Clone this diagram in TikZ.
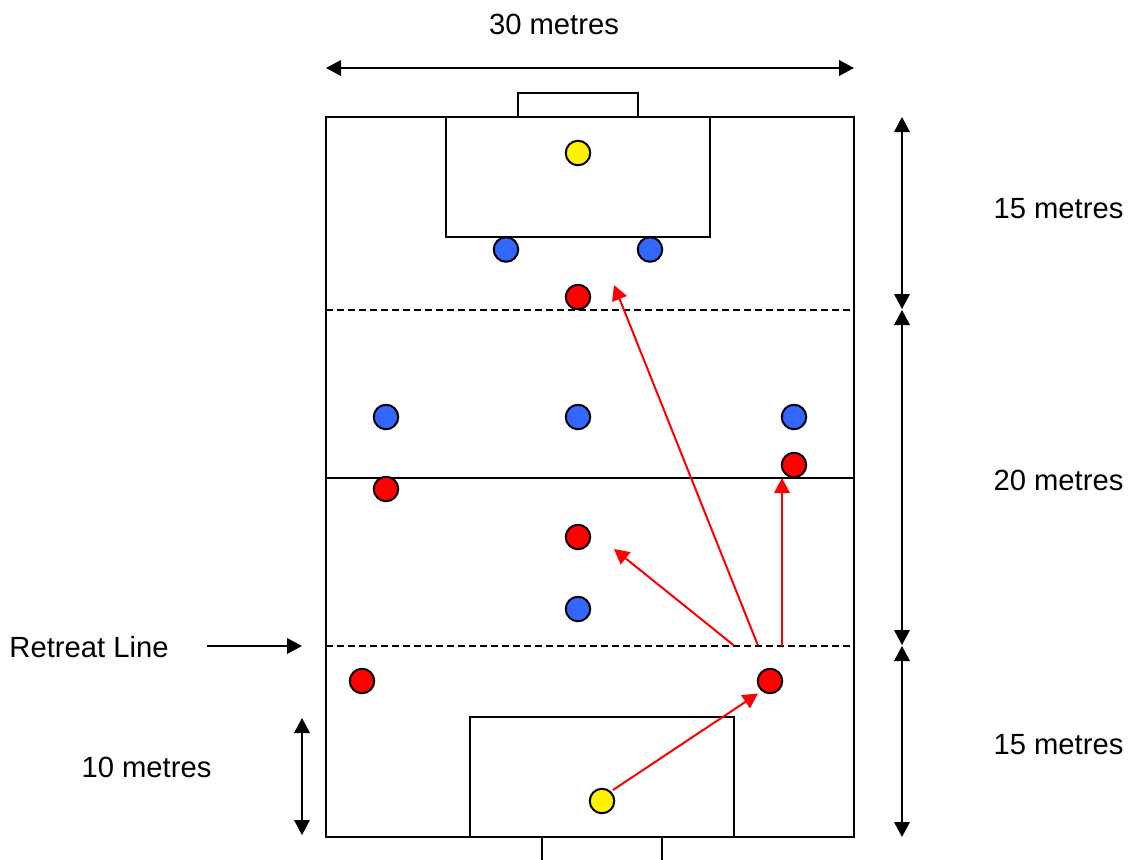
\documentclass[tikz,border=0pt]{standalone}
\usepackage{fontspec}
\setmainfont{Liberation Sans}
\usetikzlibrary{arrows.meta}
\definecolor{blueplayer}{RGB}{51,102,255}
\tikzset{
  x=1pt,y=-1pt,
  box/.style={draw=black,line width=2pt,fill=none},
  guide/.style={draw=black,line width=2pt,dash pattern=on 6.5pt off 4.5pt},
  dim/.style={draw=black,line width=2pt,{Triangle[length=15pt,width=15.5pt]}-{Triangle[length=15pt,width=15.5pt]}},
  single/.style={draw=black,line width=2pt,-{Triangle[length=15pt,width=15.5pt]}},
  move/.style={draw=red,line width=2pt,-{Triangle[length=15pt,width=15.5pt]}},
  label/.style={font=\fontsize{29.2}{32}\selectfont,text=black,inner sep=0pt},
  player/.style={circle,draw=black,line width=2pt,minimum size=24.5pt,inner sep=0pt},
  redp/.style={player,fill=red},
  bluep/.style={player,fill=blueplayer},
  yellowp/.style={player,fill=yellow},
}
\begin{document}
\begin{tikzpicture}
\useasboundingbox (0,0) rectangle (1128,860);
\fill[white] (0,0) rectangle (1128,860);
% pitch
\draw[box] (326,117) rectangle (854,837);
\draw[box] (518,117) -- (518,93) -- (638,93) -- (638,117);
\draw[box] (446,117) rectangle (710,237);
\draw[box] (470,837) -- (470,717) -- (734,717) -- (734,837);
\draw[box] (542,837) -- (542,860);
\draw[box] (662,837) -- (662,860);
\coordinate (mL) at (326,477.5);
\coordinate (mR) at (854,477.5);
\draw[box] (mL) -- (mR);
\coordinate (dtL) at (326,309.5);
\coordinate (dtR) at (854,309.5);
\coordinate (dbL) at (326,645.5);
\coordinate (dbR) at (854,645.5);
\draw[guide] (dtL) -- (dtR);
\draw[guide] (dbL) -- (dbR);
% players
\node[yellowp] (gk1) at (578,153) {};
\node[yellowp] (gk2) at (602,801) {};
\node[bluep] (b1) at (506,249.5) {};
\node[bluep] (b2) at (650,249.5) {};
\node[bluep] (b3) at (386,417) {};
\node[bluep] (b4) at (578,417) {};
\node[bluep] (b5) at (794,417) {};
\node[bluep] (b6) at (578,609) {};
\node[redp] (r1) at (578,297) {};
\node[redp] (r2) at (794,465) {};
\node[redp] (r3) at (386,489) {};
\node[redp] (r4) at (578,537) {};
\node[redp] (r5) at (362,681) {};
\node[redp] (r6) at (770,681) {};
% moves
\coordinate (s1) at (758,645.5);
\coordinate (e1) at (614,285);
\coordinate (s2) at (734,645.5);
\coordinate (e2) at (614,549);
\coordinate (s3) at (782,645.5);
\coordinate (e3) at (782,478);
\coordinate (s4) at (613,790);
\coordinate (e4) at (758,693.5);
\draw[move] (s1) -- (e1);
\draw[move] (s2) -- (e2);
\draw[move] (s3) -- (e3);
\draw[move] (s4) -- (e4);
% dimensions
\coordinate (t1) at (326,68);
\coordinate (t2) at (854,68);
\draw[dim] (t1) -- (t2);
\coordinate (v1) at (902,117);
\coordinate (v2) at (902,309);
\coordinate (v3) at (902,310);
\coordinate (v4) at (902,645);
\coordinate (v5) at (902,646);
\coordinate (v6) at (902,837);
\draw[dim] (v1) -- (v2);
\draw[dim] (v3) -- (v4);
\draw[dim] (v5) -- (v6);
\coordinate (w1) at (302,718);
\coordinate (w2) at (302,835);
\draw[dim] (w1) -- (w2);
\coordinate (a1) at (207,646);
\coordinate (a2) at (302,646);
\draw[single] (a1) -- (a2);
% labels
\node[label] (l30) at (554,24) {30 metres};
\node[label] (l15a) at (1058.5,208.5) {15 metres};
\node[label] (l20) at (1058.5,480.5) {20 metres};
\node[label] (l15b) at (1058.5,744.5) {15 metres};
\node[label] (l10) at (146.5,767.5) {10 metres};
\node[label] (lret) at (89,647.5) {Retreat Line};
\end{tikzpicture}
\end{document}
